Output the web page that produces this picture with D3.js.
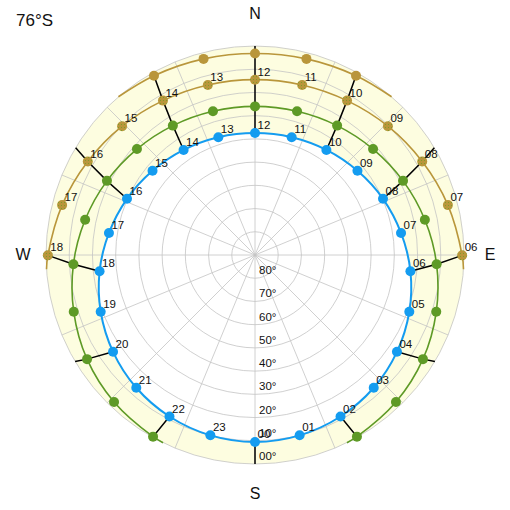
<!DOCTYPE html>
<html><head><meta charset="utf-8">
<script src="https://cdn.jsdelivr.net/npm/d3@7"></script>
<style>html,body{margin:0;padding:0;background:#fff}svg{display:block}text{font-family:"Liberation Sans",Arial,sans-serif}</style>
</head><body>
<script>
// ---- data (azimuth deg clockwise from N, apparent altitude deg) ----
const latitudeLabel = "76°S";
const compass = ["N", "E", "S", "W"];
const altitudeTicks = [80, 70, 60, 50, 40, 30, 20, 10, 0];

// Dec 21 path (hours 00..23)
const blueHours = d3.range(0, 24);
const blueAz  = [180, 166.1, 152.1, 138.2, 124.3, 110.2, 96.0, 81.4, 66.3, 50.6, 34.2, 17.3, 0, 342.7, 325.8, 309.4, 293.7, 278.6, 264.0, 249.8, 235.7, 221.8, 207.9, 193.9];
const blueAlt = [9.5, 10.0, 11.3, 13.3, 16.0, 19.2, 22.7, 26.4, 29.8, 32.9, 35.3, 36.9, 37.5, 36.9, 35.3, 32.9, 29.8, 26.4, 22.7, 19.2, 16.0, 13.3, 11.3, 10.0];

// green path (hours 02..22) + rise/set azimuths
const greenHours = d3.range(2, 23);
const greenAz  = [150.7, 136.2, 121.8, 107.4, 92.9, 78.3, 63.4, 48.1, 32.4, 16.3, 0, 343.7, 327.6, 311.9, 296.6, 281.7, 267.1, 252.6, 238.2, 223.8, 209.3];
const greenAlt = [0.3, 2.3, 4.9, 8.2, 11.7, 15.3, 18.7, 21.7, 24.0, 25.5, 26.0, 25.5, 24.0, 21.7, 18.7, 15.3, 11.7, 8.2, 4.9, 2.3, 0.3];
const greenRiseSet = [153.9, 206.1];

// equinox path (hours 06..18), dotted markers
const eqHours = d3.range(6, 19);
const eqAz  = [90.1, 75.5, 60.8, 45.9, 30.8, 15.5, 0, 344.5, 329.2, 314.1, 299.2, 284.5, 269.9];
const eqAlt = [0.8, 4.2, 7.5, 10.3, 12.6, 14.0, 14.5, 14.0, 12.6, 10.3, 7.5, 4.2, 0.8];
const eqRiseSet = [93.9, 266.1];

// outer gold path (hours 10..14)
const goldHours = d3.range(10, 15);
const goldAz  = [29.4, 14.7, 0, 345.3, 330.6];
const goldAlt = [1.4, 2.7, 3.2, 2.7, 1.4];
const goldRiseSet = [40.8, 319.2];

// hour lines (even hours) and their horizon end azimuths
const hourLineHours = [0, 2, 4, 6, 8, 10, 12, 14, 16, 18, 20, 22];
const hourLineEndAz = [180, 150.6, 120.6, 89.9, 59.1, 29.2, 0, 330.8, 300.9, 270.1, 239.4, 209.4];

// ---- drawing ----
const W = 510, H = 510, cx = 255, cy = 255, R = 209;
const COL = {blue: "#149cf0", green: "#5e9a26", gold: "#b9963b", shade: "#fdfde0", grid: "#c4c4c4"};

const rScale = d3.scaleLinear().domain([90, 0]).range([0, R]);
const aScale = d3.scaleLinear().domain([0, 360]).range([0, 2 * Math.PI]);
const pt = (az, alt) => { const rr = rScale(alt), t = aScale(az); return [rr * Math.sin(t), -rr * Math.cos(t)]; };

const mk = (hours, az, alt) => hours.map((h, i) => ({h, az: az[i], alt: alt[i]}));
const blue = mk(blueHours, blueAz, blueAlt);
const green = mk(greenHours, greenAz, greenAlt);
const eq = mk(eqHours, eqAz, eqAlt);
const gold = mk(goldHours, goldAz, goldAlt);

const svg = d3.select("body").append("svg").attr("width", W).attr("height", H);
const defs = svg.append("defs");
const pat = defs.append("pattern").attr("id", "dots").attr("patternUnits", "userSpaceOnUse")
  .attr("width", 3).attr("height", 3);
pat.append("rect").attr("width", 3).attr("height", 3).attr("fill", COL.gold);
pat.append("rect").attr("x", 1).attr("y", 1).attr("width", 1).attr("height", 1).attr("fill", "#7f9a2c");

const g = svg.append("g").attr("transform", `translate(${cx},${cy})`);

const radial = d3.lineRadial().angle(d => aScale(d.az)).radius(d => rScale(d.alt));

// shaded band between Dec path and horizon
const circlePath = d3.arc()({innerRadius: 0, outerRadius: R, startAngle: 0, endAngle: 2 * Math.PI});
const bluePathClosed = radial.curve(d3.curveCatmullRomClosed)(blue);
g.append("path").attr("d", circlePath + bluePathClosed).attr("fill", COL.shade).attr("fill-rule", "evenodd");

// grid
g.selectAll("circle.ring").data(altitudeTicks).join("circle").attr("class", "ring")
  .attr("r", d => rScale(d)).attr("fill", "none").attr("stroke", COL.grid).attr("stroke-width", 0.8);
g.selectAll("line.spoke").data(d3.range(0, 360, 22.5)).join("line").attr("class", "spoke")
  .attr("x1", 0).attr("y1", 0)
  .attr("x2", d => pt(d, 0)[0]).attr("y2", d => pt(d, 0)[1])
  .attr("stroke", COL.grid).attr("stroke-width", 0.8);

// altitude labels
g.selectAll("text.alt").data(altitudeTicks).join("text").attr("class", "alt")
  .attr("x", 4).attr("y", d => rScale(d) - 4)
  .attr("font-size", 11.5).attr("fill", "#111")
  .text(d => d3.format("02d")(d) + "°");

// hour lines
const lineLin = d3.lineRadial().angle(d => aScale(d.az)).radius(d => rScale(d.alt));
hourLineHours.forEach((h, i) => {
  const pts = [];
  [blue, green, eq, gold].forEach(s => { const p = s.find(d => d.h === h); if (p) pts.push(p); });
  pts.push({az: hourLineEndAz[i], alt: 0});
  g.append("path").attr("d", lineLin(pts)).attr("fill", "none").attr("stroke", "#000").attr("stroke-width", 1.5);
});

// curves
const curve = d3.lineRadial().angle(d => aScale(d.az)).radius(d => rScale(d.alt)).curve(d3.curveCatmullRom);
const withRS = (s, rs) => [{az: rs[0], alt: 0}, ...s, {az: rs[1], alt: 0}];
g.append("path").attr("d", radial.curve(d3.curveCatmullRomClosed)(blue)).attr("fill", "none").attr("stroke", COL.blue).attr("stroke-width", 2);
g.append("path").attr("d", curve(withRS(green, greenRiseSet))).attr("fill", "none").attr("stroke", COL.green).attr("stroke-width", 1.6);
g.append("path").attr("d", curve(withRS(eq, eqRiseSet))).attr("fill", "none").attr("stroke", COL.gold).attr("stroke-width", 1.6);
g.append("path").attr("d", curve(withRS(gold, goldRiseSet))).attr("fill", "none").attr("stroke", COL.gold).attr("stroke-width", 1.6);

// points
const dots = (s, fill) => g.append("g").selectAll("circle").data(s).join("circle")
  .attr("cx", d => pt(d.az, d.alt)[0]).attr("cy", d => pt(d.az, d.alt)[1]).attr("r", 5).attr("fill", fill);
dots(gold, COL.gold);
dots(eq, "url(#dots)");
dots(green, COL.green);
dots(blue, COL.blue);

// hour labels
const labels = s => g.append("g").selectAll("text").data(s).join("text")
  .attr("x", d => pt(d.az, d.alt)[0] + 2.5).attr("y", d => pt(d.az, d.alt)[1] - 4)
  .attr("font-size", 11.5).attr("fill", "#111").text(d => d3.format("02d")(d.h));
labels(blue);
labels(eq);

// compass + title
const comp = [
  {t: compass[0], x: 255, y: 19, a: "middle"},
  {t: compass[1], x: 490, y: 260, a: "middle"},
  {t: compass[2], x: 255, y: 499, a: "middle"},
  {t: compass[3], x: 23, y: 260, a: "middle"}
];
svg.selectAll("text.comp").data(comp).join("text").attr("class", "comp")
  .attr("x", d => d.x).attr("y", d => d.y).attr("text-anchor", d => d.a)
  .attr("font-size", 16).attr("fill", "#111").text(d => d.t);
svg.append("text").attr("x", 16).attr("y", 26).attr("font-size", 17).attr("fill", "#111").text(latitudeLabel);
</script>
</body></html>
